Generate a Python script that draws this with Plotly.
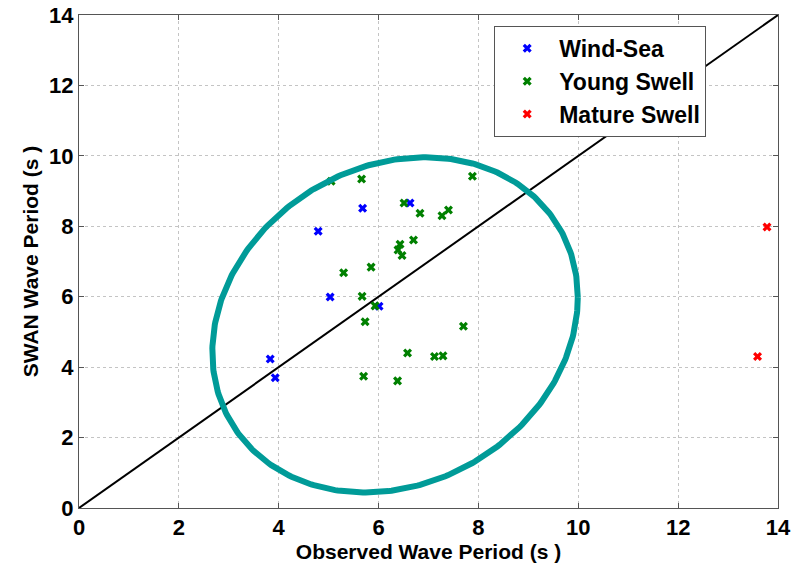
import numpy as np
import plotly.graph_objects as go

# Data
wind_x = [3.83, 3.93, 4.79, 5.03, 5.68, 6.01, 6.63]
wind_y = [4.23, 3.70, 7.86, 5.99, 8.51, 5.73, 8.66]

young_x = [5.05, 5.66, 7.88, 6.51, 6.83, 7.27, 7.40, 6.43, 6.70, 6.39, 6.47,
           5.85, 5.30, 5.67, 5.93, 5.73, 7.70, 6.58, 7.12, 7.29, 5.70, 6.38]
young_y = [9.28, 9.34, 9.42, 8.66, 8.37, 8.30, 8.46, 7.49, 7.61, 7.33, 7.17,
           6.84, 6.68, 6.01, 5.74, 5.29, 5.16, 4.40, 4.30, 4.32, 3.74, 3.61]

mature_x = [13.78, 13.59]
mature_y = [7.98, 4.30]

line_x = [0, 14]
line_y = [0, 14]

tick_vals = [0, 2, 4, 6, 8, 10, 12, 14]

# Highlight ellipse (centre, extents and correlation in data units)
ell_cx, ell_cy = 6.33, 5.20
ell_ex, ell_ey = 3.66, 4.76
ell_rho = 0.164

t = np.linspace(0, 2 * np.pi, 400)
ell_x = ell_cx + ell_ex * np.cos(t)
ell_y = ell_cy + ell_ey * (ell_rho * np.cos(t) + np.sqrt(1 - ell_rho ** 2) * np.sin(t))

font_family = "Liberation Sans, Arial, Helvetica, sans-serif"

fig = go.Figure()

fig.add_trace(go.Scatter(x=line_x, y=line_y, mode="lines",
                         line=dict(color="black", width=2),
                         showlegend=False, hoverinfo="skip"))

fig.add_trace(go.Scatter(x=wind_x, y=wind_y, mode="markers", name="Wind-Sea",
                         marker=dict(symbol="x", size=8, color="#0000ff")))
fig.add_trace(go.Scatter(x=young_x, y=young_y, mode="markers", name="Young Swell",
                         marker=dict(symbol="x", size=8, color="#008000")))
fig.add_trace(go.Scatter(x=mature_x, y=mature_y, mode="markers", name="Mature Swell",
                         marker=dict(symbol="x", size=8, color="#ff0000")))

fig.add_trace(go.Scatter(x=ell_x, y=ell_y, mode="lines",
                         line=dict(color="#009b98", width=6),
                         showlegend=False, hoverinfo="skip"))

axis_common = dict(
    range=[0, 14], tickvals=tick_vals, ticktext=[str(v) for v in tick_vals],
    showgrid=True, gridcolor="#c4c4c4", griddash="dot", gridwidth=1,
    showline=True, linecolor="#555555", linewidth=1, mirror="ticks",
    ticks="inside", ticklen=5, tickcolor="#555555",
    zeroline=False, automargin=False, ticklabeloverflow="allow",
    tickfont=dict(family=font_family, size=22, color="black", weight="bold"),
)

fig.update_layout(
    width=805, height=571,
    margin=dict(l=79, r=27, t=15, b=63),
    paper_bgcolor="white", plot_bgcolor="white",
    xaxis=dict(**axis_common,
               title=dict(text="Observed Wave Period (s )", standoff=2,
                          font=dict(family=font_family, size=21, color="black", weight="bold"))),
    yaxis=dict(**axis_common,
               title=dict(text="SWAN Wave Period (s )", standoff=4,
                          font=dict(family=font_family, size=21, color="black", weight="bold"))),
    legend=dict(x=0.594, y=0.978, xanchor="left", yanchor="top",
                bgcolor="white", bordercolor="#555555", borderwidth=1,
                font=dict(family=font_family, size=23, color="black", weight="bold"),
                itemwidth=54),
    showlegend=True,
)

# remove the browser's default 8px body margin so the figure sits at (0, 0)
fig.write_html("out.html", config={"displayModeBar": False},
               post_script="document.body.style.margin='0px';")
